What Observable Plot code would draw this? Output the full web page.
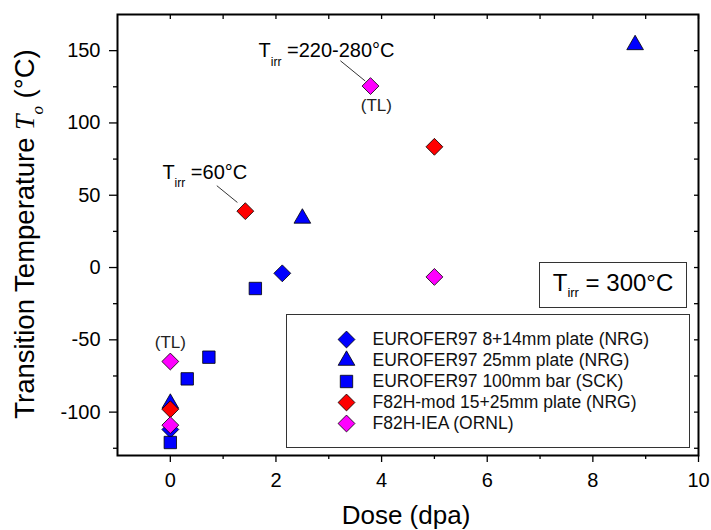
<!DOCTYPE html>
<html><head><meta charset="utf-8">
<script src="https://cdn.jsdelivr.net/npm/d3@7"></script>
<script src="https://cdn.jsdelivr.net/npm/@observablehq/plot@0.6"></script>
<style>
body{margin:0;background:#fff;font-family:"Liberation Sans",Arial,sans-serif;}
#wrap{position:relative;width:711px;height:530px;}
.box{position:absolute;background:#fff;border:1px solid #333;box-sizing:border-box;}
</style></head><body><div id="wrap"></div>
<script>
// ---- data ----
const seriesNames = ["EUROFER97 8+14mm plate (NRG)", "EUROFER97 25mm plate (NRG)", "EUROFER97 100mm bar (SCK)", "F82H-mod 15+25mm plate (NRG)", "F82H-IEA (ORNL)"];
const seriesColors = ["#0000ff", "#0000ff", "#0000ff", "#ff0000", "#ff00ff"];
const seriesSymbols = ["diamond2", "triangle", "square", "diamond2", "diamond2"];
const euro814Dose = [0, 2.12];
const euro814T = [-112, -4];
const euro25Dose = [0, 2.5, 8.8];
const euro25T = [-94, 34, 154];
const euro100Dose = [0, 0.32, 0.73, 1.61];
const euro100T = [-121, -77, -62, -14.5];
const f82modDose = [0, 1.42, 5.0];
const f82modT = [-98, 39, 83.5];
const f82ieaDose = [0, 0, 3.79, 5.0];
const f82ieaT = [-65, -109, 125.5, -6.5];
const xTicks = [0, 2, 4, 6, 8, 10];
const xMinor = [1, 3, 5, 7, 9];
const yTicks = [-100, -50, 0, 50, 100, 150];
const yMinor = [-125, -75, -25, 25, 75, 125];
const annotText = ["T_irr =220-280°C", "T_irr =60°C"];
const annotDose = [1.67, -0.15];
const annotT = [150, 66];
const tlText = ["(TL)", "(TL)"];
const tlDose = [3.9, 0];
const tlT = [112, -52];
const leaderDose1 = [3.22, 0.88];
const leaderT1 = [143, 56.6];
const leaderDose2 = [3.69, 1.27];
const leaderT2 = [129, 45];
const xLabel = "Dose (dpa)";
const yLabel = "Transition Temperature T_o (°C)";
const boxLabel = "300°C";

// ---- build ----
const seriesDose = [euro814Dose, euro25Dose, euro100Dose, f82modDose, f82ieaDose];
const seriesT = [euro814T, euro25T, euro100T, f82modT, f82ieaT];
const symR = {diamond2: 7.6, triangle: 6.2, square: 7.0};

const seriesMarks = seriesNames.map((name, k) => {
  const pts = seriesDose[k].map((d, i) => ({dose: d, t: seriesT[k][i]}));
  return Plot.dot(pts, {x: "dose", y: "t", symbol: seriesSymbols[k], r: symR[seriesSymbols[k]],
    fill: seriesColors[k], stroke: "#000", strokeWidth: 0.8});
});

const annots = annotText.map((s, i) => ({s, x: annotDose[i], y: annotT[i]}));
const tls = tlText.map((s, i) => ({s, x: tlDose[i], y: tlT[i]}));
const leaders = leaderDose1.map((d, i) => ({x1: d, y1: leaderT1[i], x2: leaderDose2[i], y2: leaderT2[i]}));
const blank = () => "";

const plot = Plot.plot({
  width: 711, height: 530,
  marginLeft: 117, marginRight: 13, marginTop: 14, marginBottom: 75,
  style: {fontFamily: "'Liberation Sans', Arial, sans-serif", fontSize: "20px", color: "#000", background: "#fff"},
  x: {domain: [-1, 10]},
  y: {domain: [-130, 175]},
  marks: [
    Plot.axisX(xTicks, {anchor: "bottom", tickSize: 7, tickPadding: 10, fontSize: 20, label: null, tickFormat: d => String(d), strokeWidth: 1.3}),
    Plot.axisX(xMinor, {anchor: "bottom", tickSize: 4, tickFormat: blank, label: null, strokeWidth: 1.3}),
    Plot.axisX([...xTicks, ...xMinor], {anchor: "top", tickSize: -4, tickFormat: blank, label: null, strokeWidth: 1.3}),
    Plot.axisY(yTicks, {anchor: "left", tickSize: 8, tickPadding: 9, fontSize: 20, label: null, tickFormat: d => String(d), strokeWidth: 1.3}),
    Plot.axisY(yMinor, {anchor: "left", tickSize: 4, tickFormat: blank, label: null, strokeWidth: 1.3}),
    Plot.axisY([...yTicks, ...yMinor], {anchor: "right", tickSize: -5, tickFormat: blank, label: null, strokeWidth: 1.3}),
    Plot.frame({stroke: "#000", strokeWidth: 2}),
    Plot.link(leaders, {x1: "x1", y1: "y1", x2: "x2", y2: "y2", stroke: "#000", strokeWidth: 0.8}),
    ...seriesMarks,
    Plot.text(annots, {x: "x", y: "y", text: "s", textAnchor: "start", fontSize: 20, fill: "#000"}),
    Plot.text(tls, {x: "x", y: "y", text: "s", fontSize: 17, fill: "#222"}),
    Plot.text([xLabel], {frameAnchor: "bottom", textAnchor: "middle", dy: 68, dx: -2, text: d => d, fontSize: 26, fill: "#000"}),
    Plot.text([yLabel], {frameAnchor: "left", textAnchor: "middle", dx: -92, dy: -1, rotate: -90, text: d => d, fontSize: 27.5, fill: "#000"})
  ]
});

// rich text: T with subscript
function richify(root) {
  root.querySelectorAll("text").forEach(t => {
    const s = t.textContent;
    const m = s.match(/^(.*?)T_(irr|o)(.*)$/);
    if (!m) return;
    const g = t.closest("[font-size]");
    const fs = g ? parseFloat(g.getAttribute("font-size")) : 20;
    const ns = "http://www.w3.org/2000/svg";
    t.textContent = "";
    const add = (txt, attrs) => {
      const sp = document.createElementNS(ns, "tspan");
      sp.textContent = txt;
      for (const k in attrs) sp.setAttribute(k, attrs[k]);
      t.appendChild(sp);
    };
    const italic = m[2] === "o";
    if (m[1]) add(m[1], {});
    add("T", italic ? {"font-family": "'Liberation Serif', serif", "font-style": "italic"} : {});
    const drop = italic ? 0.3 * fs : 0.45 * fs;
    add(m[2], Object.assign({"font-size": (italic ? 0.62 : 0.6) * fs, dy: drop}, italic ? {"font-family": "'Liberation Serif', serif", "font-style": "italic"} : {}));
    add(m[3], {dy: -drop});
  });
}
richify(plot);

const wrap = document.getElementById("wrap");
wrap.appendChild(plot);

// T_irr = 300°C box
const tbox = document.createElement("div");
tbox.className = "box";
Object.assign(tbox.style, {left: "539px", top: "262px", width: "148px", height: "46px", display: "flex", alignItems: "center", justifyContent: "center", fontSize: "24px", color: "#000"});
tbox.innerHTML = `<span style="position:relative;top:-1px">T<sub style="font-size:13px;vertical-align:-6px">irr</sub> = ${boxLabel}</span>`;
wrap.appendChild(tbox);

// legend
const lbox = document.createElement("div");
lbox.className = "box";
Object.assign(lbox.style, {left: "286px", top: "314px", width: "404px", height: "134px"});
const legendMarks = seriesNames.map((name, k) =>
  Plot.dot([name], {x: () => 0, y: d => d, symbol: seriesSymbols[k], r: symR[seriesSymbols[k]],
    fill: seriesColors[k], stroke: "#000", strokeWidth: 0.8}));
const legend = Plot.plot({
  width: 402, height: 132, margin: 0,
  style: {fontFamily: "'Liberation Sans', Arial, sans-serif", background: "transparent", color: "#000"},
  x: {domain: [0, 1], range: [59, 85], axis: null},
  y: {type: "point", domain: seriesNames, range: [22.7, 109.3], padding: 0, axis: null},
  marks: [
    ...legendMarks,
    Plot.text(seriesNames, {x: () => 1, y: d => d, text: d => d, textAnchor: "start", fontSize: 17.5, fill: "#111"})
  ]
});
lbox.appendChild(legend);
wrap.appendChild(lbox);
</script></body></html>
